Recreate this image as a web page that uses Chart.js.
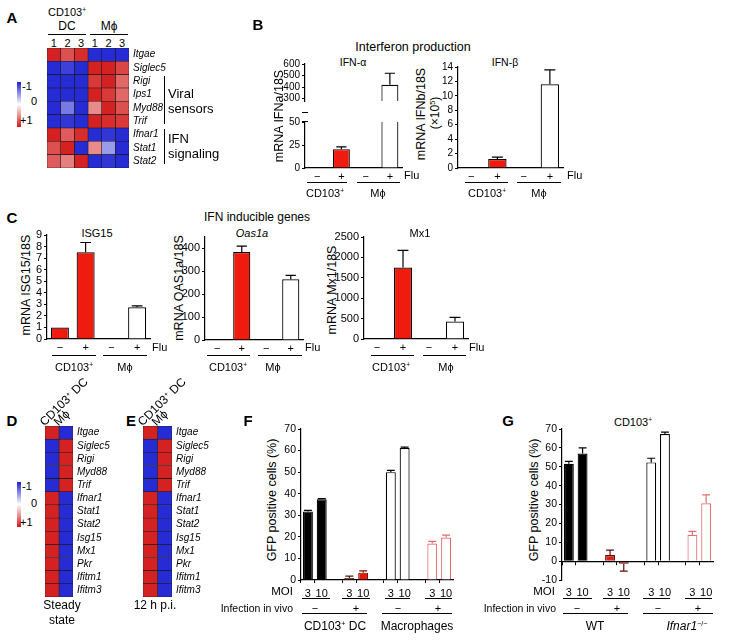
<!DOCTYPE html>
<html><head><meta charset="utf-8">
<script src="https://cdn.jsdelivr.net/npm/chart.js@4.4.1/dist/chart.umd.min.js"></script>
<style>
html,body{margin:0;padding:0;background:#fff;}
#page{position:relative;width:729px;height:640px;overflow:hidden;font-family:"Liberation Sans",Arial,Helvetica,sans-serif;color:#000;background:#fff;}
canvas{position:absolute;}
.t{position:absolute;white-space:nowrap;line-height:1;}
.t sup{font-size:0.6em;vertical-align:0.55em;line-height:0;}
.ln{position:absolute;background:#000;}
</style></head><body><div id="page"></div>
<script>
// ================= DATA =================
const colsA = ['1','2','3','1','2','3'];
const genesA = ['Itgae','Siglec5','Rigi','Ips1','Myd88','Trif','Ifnar1','Stat1','Stat2'];
const heatA = [
  [ 0.95, 0.75, 0.9, -0.95,-0.95,-0.95],
  [-0.95,-0.85,-0.95, 0.95, 0.95, 0.8],
  [-0.95,-0.95,-0.95, 0.85, 0.95, 0.65],
  [-0.95,-0.95,-0.95, 0.95, 0.85, 0.65],
  [-0.95,-0.6,-0.95, 0.5, 0.95, 0.75],
  [-0.95,-0.9,-0.95, 0.95, 0.9, 0.85],
  [ 0.95, 0.7, 0.9, -0.95,-0.9,-0.95],
  [ 0.75, 0.95,-0.95, 0.5,-0.45,-0.95],
  [ 0.7, 0.55, 0.95,-0.95,-0.9,-0.95]
];
const colsDE = ['CD103+ DC','Mϕ'];
const genesDE = ['Itgae','Siglec5','Rigi','Myd88','Trif','Ifnar1','Stat1','Stat2','Isg15','Mx1','Pkr','Ifitm1','Ifitm3'];
const heatD = [[0.95,-0.95],[-0.95,0.95],[-0.95,0.95],[-0.95,0.95],[-0.95,0.95],[0.95,-0.95],[0.95,-0.95],[0.95,-0.95],[0.95,-0.95],[0.95,-0.95],[0.95,-0.95],[0.95,-0.95],[0.95,-0.95]];
const heatE = [[0.95,-0.95],[-0.95,0.95],[-0.95,0.95],[-0.95,0.95],[-0.95,0.95],[0.95,-0.95],[0.95,-0.95],[0.95,-0.95],[0.95,-0.95],[0.95,-0.95],[0.95,-0.95],[0.95,-0.95],[0.95,-0.95]];

const fluLabels = ['−','+','−','+'];
const ifnAlpha    = [0.6, 20.5, 0.3, 420];
const ifnAlphaErr = [0, 2.5, 0, 100];
const ifnBeta     = [0, 1.25, 0, 11.6];
const ifnBetaErr  = [0, 0.25, 0, 2.0];
const isg15       = [1, 7.5, 0, 2.75];
const isg15Err    = [0, 0.85, 0, 0.12];
const oas1a       = [0, 384, 0, 265];
const oas1aErr    = [0, 26, 0, 17];
const mx1         = [0, 1750, 18, 430];
const mx1Err      = [0, 420, 0, 100];

const moiLabels = ['3','10','','3','10','','3','10','','3','10'];
const gfpF    = [31.8, 37.4, null, 0.9, 3.4, null, 50.0, 61.2, null, 16.9, 19.7];
const gfpFErr = [0.5, 0.3, null, 0.9, 0.8, null, 0.8, 0.4, null, 1.0, 1.1];
const gfpG    = [51.6, 57.0, null, 3.2, -1.4, null, 52.3, 67.3, null, 13.9, 30.7];
const gfpGErr = [1.2, 3.0, null, 2.6, 3.9, null, 2.2, 1.0, null, 1.9, 4.4];

// ================= HELPERS =================
Chart.defaults.font.family = "'Liberation Sans', Arial, Helvetica, sans-serif";
Chart.defaults.color = '#000';
const page = document.getElementById('page');

function txt(html, x, y, o = {}) {
  const d = document.createElement('div'); d.className = 't'; d.innerHTML = html;
  d.style.fontSize = (o.size || 11) + 'px';
  if (o.bold) d.style.fontWeight = 'bold';
  if (o.italic) d.style.fontStyle = 'italic';
  if (o.color) d.style.color = o.color;
  d.style.left = x + 'px'; d.style.top = y + 'px';
  const ax = o.align === 'left' ? '0' : o.align === 'right' ? '-100%' : '-50%';
  let tr = `translate(${ax},-50%)`;
  if (o.rot) tr += ` rotate(${o.rot}deg)`;
  d.style.transform = tr;
  page.appendChild(d); return d;
}
function rot45(html, x, y, size) {
  const d = document.createElement('div'); d.className = 't'; d.innerHTML = html;
  d.style.fontSize = size + 'px'; d.style.left = x + 'px'; d.style.top = (y - size) + 'px';
  d.style.transformOrigin = '0 100%'; d.style.transform = 'rotate(-45deg)';
  page.appendChild(d);
}
function hl(x0, x1, y, w = 1) {
  const d = document.createElement('div'); d.className = 'ln';
  Object.assign(d.style, { left: x0 + 'px', top: (y - w / 2) + 'px', width: (x1 - x0) + 'px', height: w + 'px' });
  page.appendChild(d);
}
function vl(x, y0, y1, w = 1) {
  const d = document.createElement('div'); d.className = 'ln';
  Object.assign(d.style, { left: (x - w / 2) + 'px', top: y0 + 'px', width: w + 'px', height: (y1 - y0) + 'px' });
  page.appendChild(d);
}
function colorbar(x, y, w, h) {
  const d = document.createElement('div');
  Object.assign(d.style, { position: 'absolute', left: x + 'px', top: y + 'px', width: w + 'px', height: h + 'px',
    background: 'linear-gradient(to bottom, rgb(28,32,210), #ffffff 50%, rgb(210,22,22))' });
  page.appendChild(d);
}
function mkCanvas(p) {
  const c = document.createElement('canvas');
  const W = Math.round(p.x1 - p.x0 + p.l + p.r), H = Math.round(p.y1 - p.y0 + p.t + p.b);
  c.width = W; c.height = H;
  Object.assign(c.style, { left: (p.x0 - p.l) + 'px', top: (p.y0 - p.t) + 'px', width: W + 'px', height: H + 'px' });
  page.appendChild(c); return c;
}
function heatColor(v) {
  const t = Math.min(1, Math.abs(v));
  const c = v < 0 ? [28, 32, 210] : [210, 22, 22];
  return `rgb(${Math.round(255 + (c[0] - 255) * t)},${Math.round(255 + (c[1] - 255) * t)},${Math.round(255 + (c[2] - 255) * t)})`;
}

const errPlugin = {
  id: 'errbars',
  afterDatasetsDraw(chart) {
    const { ctx, chartArea: a } = chart;
    chart.data.datasets.forEach((ds, di) => {
      if (!ds.err) return;
      const meta = chart.getDatasetMeta(di);
      const ys = chart.scales[meta.yAxisID];
      ctx.save();
      ctx.beginPath(); ctx.rect(a.left - 20, a.top - 1, a.width + 40, a.height + 2); ctx.clip();
      meta.data.forEach((bar, i) => {
        const v = ds.data[i], e = ds.err[i];
        if (v == null || !e) return;
        const yv = ys.getPixelForValue(v);
        const ye = ys.getPixelForValue(v < 0 ? v - e : v + e);
        const hw = bar.width * (ds.capFrac || 0.3);
        ctx.strokeStyle = Array.isArray(ds.errColor) ? ds.errColor[i] : (ds.errColor || '#000');
        ctx.lineWidth = 1.2;
        ctx.beginPath();
        ctx.moveTo(bar.x, yv); ctx.lineTo(bar.x, ye);
        ctx.moveTo(bar.x - hw, ye); ctx.lineTo(bar.x + hw, ye);
        ctx.stroke();
      });
      ctx.restore();
    });
  }
};
Chart.register(errPlugin);

function barChart(p, d) {
  const cv = mkCanvas(p);
  const xShown = d.xShown !== false;
  const scales = {
    x: {
      display: xShown,
      offset: true,
      grid: { display: !!d.tickMarks, drawOnChartArea: false, drawTicks: !!d.tickMarks, tickLength: 3, color: '#000',
              tickColor: d.tickMarks ? (c => (d.values[c.index] == null ? 'rgba(0,0,0,0)' : '#000')) : '#000', tickWidth: 1 },
      border: { display: true, color: '#000', width: 1.2 },
      ticks: { display: !d.zeroAxis, font: { size: d.xFont || 11 }, color: '#000', padding: d.xPad ?? 2, maxRotation: 0, autoSkip: false },
      afterFit: s => { s.height = p.b; }
    },
    y: {
      min: d.ymin, max: d.ymax,
      ticks: { stepSize: d.step, font: { size: d.yFont || 11 }, color: '#000', padding: 2, autoSkip: false, callback: v => String(v) },
      afterBuildTicks: d.yTicks ? (s => { s.ticks = d.yTicks.map(v => ({ value: v })); }) : undefined,
      grid: { display: true, drawOnChartArea: false, drawTicks: true, tickLength: 3, color: '#000', lineWidth: 1 },
      border: { display: true, color: '#000', width: 1.2 },
      afterFit: s => { s.width = p.l; }
    }
  };
  if (d.zeroAxis) {
    scales.x.position = { y: 0 };
    delete scales.x.afterFit;
    scales.xl = {
      type: 'category', position: 'bottom', offset: true,
      grid: { display: false, drawTicks: false }, border: { display: false },
      ticks: { font: { size: d.xFont || 11 }, color: '#000', padding: d.xPad ?? 2, maxRotation: 0, autoSkip: false },
      afterFit: s => { s.height = p.b; }
    };
  }
  return new Chart(cv, {
    type: 'bar',
    data: {
      labels: d.labels,
      datasets: [{
        data: d.values, err: d.err,
        backgroundColor: d.fills, borderColor: d.borders,
        borderWidth: d.bw || 1.2, borderSkipped: 'start',
        barPercentage: d.bp || 0.7, categoryPercentage: 1,
        errColor: d.errColors || d.borders, capFrac: d.capFrac
      }]
    },
    options: {
      responsive: false, maintainAspectRatio: false, animation: false, events: [],
      layout: { padding: { left: 0, top: p.t, right: p.r, bottom: xShown ? 0 : p.b } },
      plugins: { legend: { display: false }, tooltip: { enabled: false } },
      scales
    }
  });
}

function heatmap(p, genes, cols, vals, fontSize) {
  const cv = mkCanvas(p);
  const datasets = cols.map((c, ci) => ({
    label: c,
    data: genes.map(() => 1),
    backgroundColor: genes.map((g, gi) => heatColor(vals[gi][ci])),
    borderColor: '#1a1a1a', borderWidth: 0.6, borderSkipped: false,
    barPercentage: 1, categoryPercentage: 1
  }));
  return new Chart(cv, {
    type: 'bar',
    data: { labels: genes, datasets },
    options: {
      indexAxis: 'y', responsive: false, maintainAspectRatio: false, animation: false, events: [],
      layout: { padding: { left: 0, right: 0, top: p.t, bottom: p.b } },
      plugins: { legend: { display: false }, tooltip: { enabled: false } },
      scales: {
        x: { stacked: true, display: false, min: 0, max: cols.length },
        y: { stacked: true, position: 'right', offset: true,
             grid: { display: false, drawTicks: false }, border: { display: false },
             ticks: { font: { size: fontSize, style: 'italic' }, color: '#000', padding: 4, autoSkip: false },
             afterFit: s => { s.width = p.r; } }
      }
    }
  });
}

const RED = '#EE1B0E';
const fillsCD = [RED, RED, '#ffffff', '#ffffff'];
const bordCD = ['#000', '#000', '#000', '#000'];

// ================= PANEL A =================
txt('A', 12, 17, { bold: true, size: 15 });
txt('CD103<sup>+</sup>', 67, 12, { size: 11 });
txt('DC', 67, 26, { size: 12 });
txt('Mϕ', 109, 26, { size: 12 });
hl(48, 86, 34); hl(90, 128, 34);
colsA.forEach((c, i) => txt(c, 47 + 13.67 * (i + 0.5), 43, { size: 11 }));
heatmap({ x0: 47, y0: 48, x1: 129, y1: 168, l: 0, t: 10, r: 62, b: 10 }, genesA, colsA, heatA, 10);
colorbar(17, 82, 4, 45);
txt('-1', 22, 86, { align: 'left', size: 11 });
txt('0', 31, 101, { align: 'left', size: 11 });
txt('+1', 20, 120, { align: 'left', size: 11 });
vl(164, 76, 124); vl(164, 129, 164);
txt('Viral', 168, 93, { align: 'left', size: 13 });
txt('sensors', 168, 108, { align: 'left', size: 13 });
txt('IFN', 168, 138, { align: 'left', size: 13 });
txt('signaling', 168, 153, { align: 'left', size: 13 });

// ================= PANEL B =================
txt('B', 258, 24, { bold: true, size: 15 });
txt('Interferon production', 413, 47, { size: 12.5 });
txt('IFN-α', 353, 62, { size: 10.5 });
txt('IFN-β', 505, 62, { size: 10.5 });
txt('mRNA IFNa/18S', 279, 116, { size: 12.5, rot: -90 });
txt('mRNA IFNb/18S', 421, 114, { size: 12.5, rot: -90 });
txt('(×10<sup>5</sup>)', 435, 113, { size: 12, rot: -90 });
// IFN-alpha broken axis: upper part
barChart({ x0: 305, y0: 64, x1: 402, y1: 111, l: 30, t: 10, r: 6, b: 10 }, {
  labels: fluLabels, values: ifnAlpha.map(v => (v > 300 ? v : null)), err: ifnAlphaErr,
  fills: fillsCD, borders: bordCD, ymin: 280, ymax: 600, yTicks: [300, 400, 500, 600], yFont: 10, xShown: false
});
// lower part
barChart({ x0: 305, y0: 122, x1: 402, y1: 168, l: 30, t: 10, r: 6, b: 14 }, {
  labels: fluLabels, values: ifnAlpha, err: ifnAlphaErr,
  fills: fillsCD, borders: bordCD, ymin: 0, ymax: 50, step: 25, yFont: 10
});
// break marks on the IFN-alpha axis
hl(302, 308, 112, 1); hl(302, 308, 121, 1);
barChart({ x0: 458, y0: 67, x1: 563, y1: 168, l: 26, t: 10, r: 6, b: 14 }, {
  labels: fluLabels, values: ifnBeta, err: ifnBetaErr,
  fills: fillsCD, borders: bordCD, ymin: 0, ymax: 14, step: 2, yFont: 10
});
txt('Flu', 404, 175, { align: 'left', size: 11 });
txt('Flu', 567, 175, { align: 'left', size: 11 });
hl(307, 347, 182); hl(357, 400, 182); hl(465, 508, 182); hl(517, 561, 182);
txt('CD103<sup>+</sup>', 325, 193, { size: 11 });
txt('Mϕ', 378, 193, { size: 11 });
txt('CD103<sup>+</sup>', 487, 193, { size: 11 });
txt('Mϕ', 539, 193, { size: 11 });

// ================= PANEL C =================
txt('C', 12, 217, { bold: true, size: 15 });
txt('IFN inducible genes', 257, 217, { size: 12 });
txt('ISG15', 97, 233, { size: 11 });
txt('Oas1a', 252, 233, { size: 11, italic: true });
txt('Mx1', 420, 233, { size: 11 });
txt('mRNA ISG15/18S', 26, 285, { size: 12.5, rot: -90 });
txt('mRNA OAS1a/18S', 179, 288, { size: 12.5, rot: -90 });
txt('mRNA Mx1/18S', 332, 290, { size: 12.5, rot: -90 });
barChart({ x0: 47, y0: 235, x1: 150, y1: 339, l: 16, t: 10, r: 6, b: 14 }, {
  labels: fluLabels, values: isg15, err: isg15Err,
  fills: fillsCD, borders: bordCD, ymin: 0, ymax: 9, step: 1
});
barChart({ x0: 205, y0: 237, x1: 303, y1: 340, l: 28, t: 10, r: 6, b: 14 }, {
  labels: fluLabels, values: oas1a, err: oas1aErr,
  fills: fillsCD, borders: bordCD, ymin: 0, ymax: 450, yTicks: [0, 100, 200, 300, 400]
});
barChart({ x0: 364, y0: 237, x1: 468, y1: 339, l: 32, t: 10, r: 6, b: 14 }, {
  labels: fluLabels, values: mx1, err: mx1Err,
  fills: fillsCD, borders: bordCD, ymin: 0, ymax: 2500, step: 500
});
txt('Flu', 152, 347, { align: 'left', size: 11 });
txt('Flu', 305, 347, { align: 'left', size: 11 });
txt('Flu', 469, 347, { align: 'left', size: 11 });
hl(52, 96, 355); hl(103, 147, 355); hl(207, 250, 355); hl(258, 302, 355); hl(371, 414, 355); hl(423, 466, 355);
txt('CD103<sup>+</sup>', 74, 367, { size: 11 });
txt('Mϕ', 125, 367, { size: 11 });
txt('CD103<sup>+</sup>', 228, 367, { size: 11 });
txt('Mϕ', 273, 367, { size: 11 });
txt('CD103<sup>+</sup>', 391, 367, { size: 11 });
txt('Mϕ', 446, 367, { size: 11 });

// ================= PANELS D, E =================
txt('D', 12, 420, { bold: true, size: 15 });
txt('E', 131, 420, { bold: true, size: 15 });
heatmap({ x0: 45, y0: 426, x1: 73, y1: 597, l: 0, t: 10, r: 64, b: 10 }, genesDE, colsDE, heatD, 10);
heatmap({ x0: 143, y0: 426, x1: 172, y1: 597, l: 0, t: 10, r: 64, b: 10 }, genesDE, colsDE, heatE, 10);
rot45('CD103<sup>+</sup> DC', 46, 428, 12);
rot45('Mϕ', 60, 428, 12);
rot45('CD103<sup>+</sup> DC', 144, 428, 12);
rot45('Mϕ', 158, 428, 12);
colorbar(17, 482, 4, 45);
txt('-1', 22, 486, { align: 'left', size: 11 });
txt('0', 31, 503, { align: 'left', size: 11 });
txt('+1', 20, 522, { align: 'left', size: 11 });
txt('Steady', 62, 605, { size: 12 });
txt('state', 62, 620, { size: 12 });
txt('12 h p.i.', 155, 605, { size: 12 });

// ================= PANEL F =================
txt('F', 248, 420, { bold: true, size: 15 });
txt('GFP positive cells (%)', 272, 500, { size: 12.5, rot: -90 });
const T = 'rgba(0,0,0,0)';
barChart({ x0: 301, y0: 429, x1: 453, y1: 580, l: 30, t: 10, r: 6, b: 20 }, {
  labels: moiLabels, values: gfpF, err: gfpFErr, tickMarks: true, xPad: 4,
  fills: ['#000', '#000', T, '#9B3B2B', '#E8170C', T, '#fff', '#fff', T, '#fff', '#fff'],
  borders: ['#000', '#000', T, '#4a1a12', '#7a1208', T, '#000', '#000', T, '#E46A6A', '#E46A6A'],
  ymin: 0, ymax: 70, step: 10, yFont: 10.5, bp: 0.72, capFrac: 0.4
});
txt('MOI', 293, 592, { align: 'right', size: 11.5 });
hl(302, 330, 598); hl(342, 370, 598); hl(385, 410, 598); hl(425, 452, 598);
txt('Infection in vivo', 293, 608, { align: 'right', size: 10.5 });
txt('−', 315, 608, { size: 11 }); txt('+', 356, 608, { size: 11 });
txt('−', 398, 608, { size: 11 }); txt('+', 438, 608, { size: 11 });
hl(302, 367, 613); hl(382, 452, 613);
txt('CD103<sup>+</sup> DC', 335, 626, { size: 12 });
txt('Macrophages', 417, 626, { size: 12 });

// ================= PANEL G =================
txt('G', 508, 420, { bold: true, size: 15 });
txt('CD103<sup>+</sup>', 633, 422, { size: 11 });
txt('GFP positive cells (%)', 534, 500, { size: 12.5, rot: -90 });
barChart({ x0: 562, y0: 429, x1: 713, y1: 580, l: 30, t: 10, r: 6, b: 20 }, {
  labels: moiLabels, values: gfpG, err: gfpGErr, tickMarks: true, zeroAxis: true, xPad: 6,
  fills: ['#000', '#000', T, '#D8221A', '#D8221A', T, '#fff', '#fff', T, '#fff', '#fff'],
  borders: ['#000', '#000', T, '#5a0f0a', '#5a0f0a', T, '#000', '#000', T, '#E07070', '#E07070'],
  ymin: -10, ymax: 70, step: 10, yFont: 10.5, bp: 0.72, capFrac: 0.4
});
txt('MOI', 555, 592, { align: 'right', size: 11.5 });
hl(563, 592, 598); hl(603, 630, 598); hl(643, 670, 598); hl(685, 712, 598);
txt('Infection in vivo', 556, 608, { align: 'right', size: 10.5 });
txt('−', 577, 608, { size: 11 }); txt('+', 617, 608, { size: 11 });
txt('−', 658, 608, { size: 11 }); txt('+', 698, 608, { size: 11 });
hl(563, 628, 613); hl(643, 713, 613);
txt('WT', 595, 626, { size: 12 });
txt('<i>Ifnar1</i><sup>−/−</sup>', 687, 626, { size: 12 });
</script></body></html>
